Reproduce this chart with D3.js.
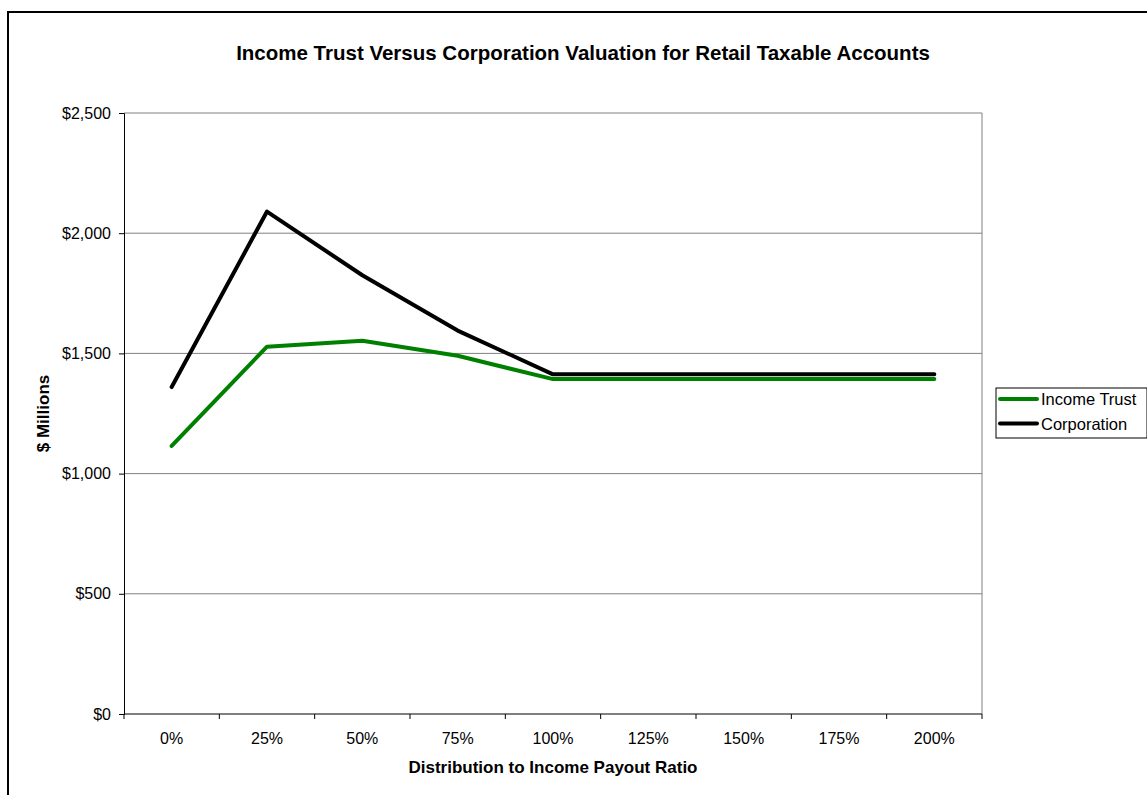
<!DOCTYPE html>
<html>
<head>
<meta charset="utf-8">
<script src="https://cdn.jsdelivr.net/npm/d3@7"></script>
<style>
  body { margin: 0; background: #fff; }
  svg { font-family: "Liberation Sans", Arial, sans-serif; }
  .axis text { font-size: 16px; fill: #000; }
</style>
</head>
<body>
<svg id="chart" width="1147" height="795"></svg>
<script>
const categories = ["0%", "25%", "50%", "75%", "100%", "125%", "150%", "175%", "200%"];
const incomeTrust = [1115, 1528, 1553, 1490, 1393, 1393, 1393, 1393, 1393];
const corporation = [1360, 2090, 1825, 1595, 1413, 1413, 1413, 1413, 1413];
const yTicks = [0, 500, 1000, 1500, 2000, 2500];

const MARGINS = { left: 124, top: 113, right: 982, bottom: 714 };

const svg = d3.select("#chart");

// outer chart border
svg.append("rect")
  .attr("x", 8).attr("y", 12)
  .attr("width", 1160).attr("height", 800)
  .attr("fill", "none").attr("stroke", "#000").attr("stroke-width", 2);

const x = d3.scaleBand()
  .domain(categories)
  .range([MARGINS.left, MARGINS.right]);

const y = d3.scaleLinear()
  .domain([0, 2500])
  .range([MARGINS.bottom, MARGINS.top]);

// gridlines
svg.append("g")
  .selectAll("line")
  .data(yTicks.slice(1))
  .join("line")
  .attr("x1", MARGINS.left).attr("x2", MARGINS.right)
  .attr("y1", d => y(d)).attr("y2", d => y(d))
  .attr("stroke", "#808080").attr("stroke-width", 1);

// right border of plot
svg.append("line")
  .attr("x1", MARGINS.right).attr("x2", MARGINS.right)
  .attr("y1", MARGINS.top).attr("y2", MARGINS.bottom)
  .attr("stroke", "#808080");

// y axis
const yAxis = d3.axisLeft(y)
  .tickValues(yTicks)
  .tickSize(5)
  .tickPadding(8)
  .tickFormat(d => "$" + d3.format(",")(d));

svg.append("g")
  .attr("class", "axis")
  .attr("transform", `translate(${MARGINS.left},0)`)
  .call(yAxis)
  .call(g => g.select(".domain").attr("stroke", "#000"));

// x axis with ticks at band boundaries
const xAxisG = svg.append("g")
  .attr("class", "axis")
  .attr("transform", `translate(0,${MARGINS.bottom})`);

xAxisG.append("line")
  .attr("x1", MARGINS.left).attr("x2", MARGINS.right)
  .attr("stroke", "#000");

xAxisG.selectAll(".tick-mark")
  .data(d3.range(categories.length + 1))
  .join("line")
  .attr("class", "tick-mark")
  .attr("x1", i => MARGINS.left + i * x.step())
  .attr("x2", i => MARGINS.left + i * x.step())
  .attr("y1", 0).attr("y2", 5)
  .attr("stroke", "#000");

xAxisG.selectAll("text")
  .data(categories)
  .join("text")
  .attr("x", d => x(d) + x.bandwidth() / 2)
  .attr("y", 30)
  .attr("text-anchor", "middle")
  .text(d => d);

// lines
const line = d3.line()
  .x((d, i) => x(categories[i]) + x.bandwidth() / 2)
  .y(d => y(d));

const series = [
  { name: "Income Trust", values: incomeTrust, color: "#008000" },
  { name: "Corporation", values: corporation, color: "#000000" },
];

svg.append("g")
  .selectAll("path")
  .data(series)
  .join("path")
  .attr("d", d => line(d.values))
  .attr("fill", "none")
  .attr("stroke", d => d.color)
  .attr("stroke-width", 4)
  .attr("stroke-linejoin", "round")
  .attr("stroke-linecap", "round");

// title
svg.append("text")
  .attr("x", 583).attr("y", 60)
  .attr("text-anchor", "middle")
  .attr("font-size", 20.5).attr("font-weight", "bold")
  .text("Income Trust Versus Corporation Valuation for Retail Taxable Accounts");

// axis titles
svg.append("text")
  .attr("x", (MARGINS.left + MARGINS.right) / 2).attr("y", 773)
  .attr("text-anchor", "middle")
  .attr("font-size", 17).attr("font-weight", "bold")
  .text("Distribution to Income Payout Ratio");

svg.append("text")
  .attr("transform", `translate(49,${(MARGINS.top + MARGINS.bottom) / 2}) rotate(-90)`)
  .attr("text-anchor", "middle")
  .attr("font-size", 17).attr("font-weight", "bold")
  .text("$ Millions");

// legend
const legend = svg.append("g").attr("transform", "translate(996,388)");

legend.append("rect")
  .attr("width", 151).attr("height", 50)
  .attr("fill", "#fff").attr("stroke", "#000").attr("stroke-width", 1);

const items = legend.selectAll(".item")
  .data(series)
  .join("g")
  .attr("class", "item")
  .attr("transform", (d, i) => `translate(0,${11 + i * 24.5})`);

items.append("line")
  .attr("x1", 4).attr("x2", 41)
  .attr("stroke", d => d.color)
  .attr("stroke-width", 4)
  .attr("stroke-linecap", "round");

items.append("text")
  .attr("x", 45).attr("y", 6)
  .attr("font-size", 16.5)
  .text(d => d.name);
</script>
</body>
</html>
